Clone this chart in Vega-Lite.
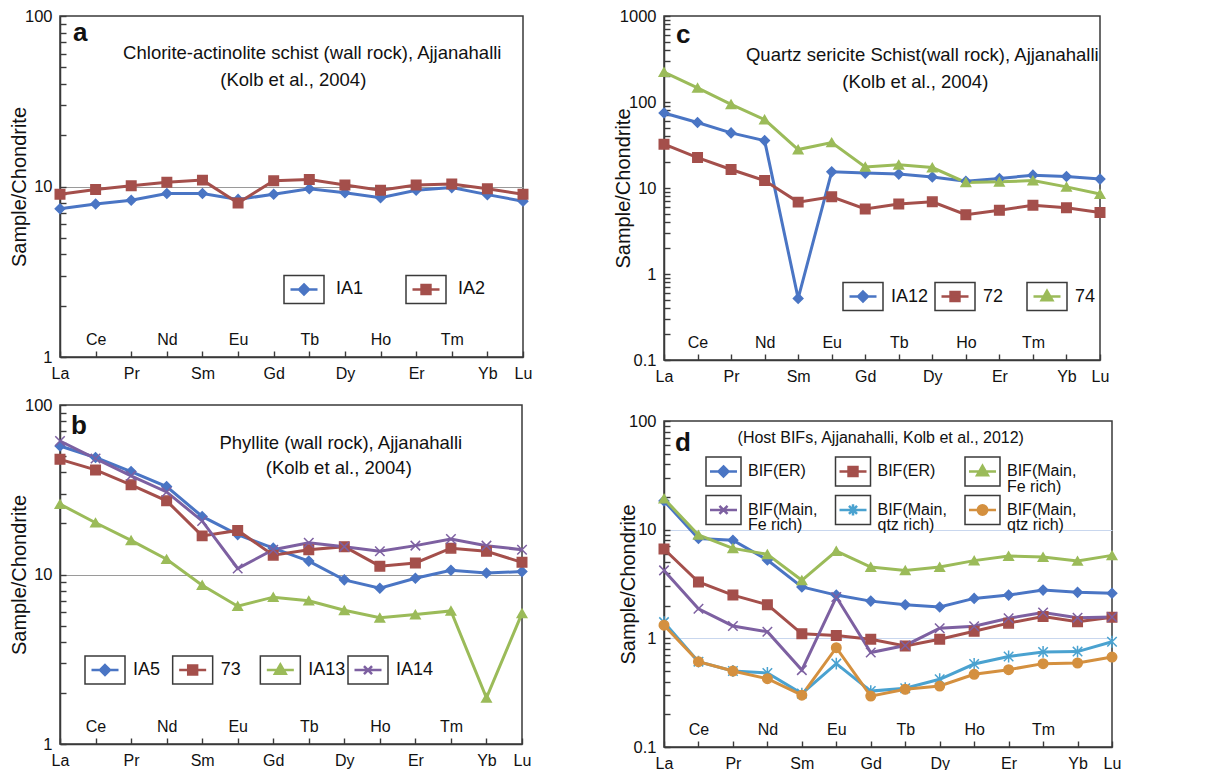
{
  "$schema": "https://vega.github.io/schema/vega-lite/v6.json",
  "background": "white",
  "padding": {"left": 8, "top": 7, "right": 5, "bottom": 2},
  "datasets": {
    "a": [
      {"s":"IA1","el":"La","v":7.4},{"s":"IA1","el":"Ce","v":7.9},{"s":"IA1","el":"Pr","v":8.3},{"s":"IA1","el":"Nd","v":9.1},{"s":"IA1","el":"Sm","v":9.1},{"s":"IA1","el":"Eu","v":8.4},{"s":"IA1","el":"Gd","v":9.0},{"s":"IA1","el":"Tb","v":9.7},{"s":"IA1","el":"Dy","v":9.2},{"s":"IA1","el":"Ho","v":8.6},{"s":"IA1","el":"Er","v":9.5},{"s":"IA1","el":"Tm","v":9.85},{"s":"IA1","el":"Yb","v":8.96},{"s":"IA1","el":"Lu","v":8.2},
      {"s":"IA2","el":"La","v":9.0},{"s":"IA2","el":"Ce","v":9.6},{"s":"IA2","el":"Pr","v":10.1},{"s":"IA2","el":"Nd","v":10.6},{"s":"IA2","el":"Sm","v":10.9},{"s":"IA2","el":"Eu","v":8.0},{"s":"IA2","el":"Gd","v":10.8},{"s":"IA2","el":"Tb","v":11.0},{"s":"IA2","el":"Dy","v":10.2},{"s":"IA2","el":"Ho","v":9.5},{"s":"IA2","el":"Er","v":10.2},{"s":"IA2","el":"Tm","v":10.35},{"s":"IA2","el":"Yb","v":9.7},{"s":"IA2","el":"Lu","v":9.0}
    ],
    "b": [
      {"s":"IA5","el":"La","v":57.3},{"s":"IA5","el":"Ce","v":49},{"s":"IA5","el":"Pr","v":40.5},{"s":"IA5","el":"Nd","v":33},{"s":"IA5","el":"Sm","v":22},{"s":"IA5","el":"Eu","v":17.2},{"s":"IA5","el":"Gd","v":14.3},{"s":"IA5","el":"Tb","v":12.0},{"s":"IA5","el":"Dy","v":9.3},{"s":"IA5","el":"Ho","v":8.3},{"s":"IA5","el":"Er","v":9.5},{"s":"IA5","el":"Tm","v":10.6},{"s":"IA5","el":"Yb","v":10.2},{"s":"IA5","el":"Lu","v":10.4},
      {"s":"73","el":"La","v":47.8},{"s":"73","el":"Ce","v":41.4},{"s":"73","el":"Pr","v":33.8},{"s":"73","el":"Nd","v":27.2},{"s":"73","el":"Sm","v":16.9},{"s":"73","el":"Eu","v":18.2},{"s":"73","el":"Gd","v":13.0},{"s":"73","el":"Tb","v":14.0},{"s":"73","el":"Dy","v":14.6},{"s":"73","el":"Ho","v":11.2},{"s":"73","el":"Er","v":11.7},{"s":"73","el":"Tm","v":14.3},{"s":"73","el":"Yb","v":13.7},{"s":"73","el":"Lu","v":11.8},
      {"s":"IA13","el":"La","v":26},{"s":"IA13","el":"Ce","v":20.2},{"s":"IA13","el":"Pr","v":15.9},{"s":"IA13","el":"Nd","v":12.3},{"s":"IA13","el":"Sm","v":8.65},{"s":"IA13","el":"Eu","v":6.5},{"s":"IA13","el":"Gd","v":7.35},{"s":"IA13","el":"Tb","v":7.0},{"s":"IA13","el":"Dy","v":6.15},{"s":"IA13","el":"Ho","v":5.55},{"s":"IA13","el":"Er","v":5.8},{"s":"IA13","el":"Tm","v":6.1},{"s":"IA13","el":"Yb","v":1.87},{"s":"IA13","el":"Lu","v":5.9},
      {"s":"IA14","el":"La","v":61.3},{"s":"IA14","el":"Ce","v":48.3},{"s":"IA14","el":"Pr","v":38.2},{"s":"IA14","el":"Nd","v":30.7},{"s":"IA14","el":"Sm","v":20.7},{"s":"IA14","el":"Eu","v":10.85},{"s":"IA14","el":"Gd","v":14.0},{"s":"IA14","el":"Tb","v":15.4},{"s":"IA14","el":"Dy","v":14.6},{"s":"IA14","el":"Ho","v":13.7},{"s":"IA14","el":"Er","v":14.8},{"s":"IA14","el":"Tm","v":16.2},{"s":"IA14","el":"Yb","v":14.8},{"s":"IA14","el":"Lu","v":14.0}
    ],
    "c": [
      {"s":"IA12","el":"La","v":74.6},{"s":"IA12","el":"Ce","v":57.7},{"s":"IA12","el":"Pr","v":43.7},{"s":"IA12","el":"Nd","v":35.6},{"s":"IA12","el":"Sm","v":0.52},{"s":"IA12","el":"Eu","v":15.4},{"s":"IA12","el":"Gd","v":14.9},{"s":"IA12","el":"Tb","v":14.5},{"s":"IA12","el":"Dy","v":13.4},{"s":"IA12","el":"Ho","v":12.0},{"s":"IA12","el":"Er","v":12.9},{"s":"IA12","el":"Tm","v":14.1},{"s":"IA12","el":"Yb","v":13.6},{"s":"IA12","el":"Lu","v":12.7},
      {"s":"72","el":"La","v":32.3},{"s":"72","el":"Ce","v":22.6},{"s":"72","el":"Pr","v":16.4},{"s":"72","el":"Nd","v":12.2},{"s":"72","el":"Sm","v":6.85},{"s":"72","el":"Eu","v":7.9},{"s":"72","el":"Gd","v":5.7},{"s":"72","el":"Tb","v":6.5},{"s":"72","el":"Dy","v":6.9},{"s":"72","el":"Ho","v":4.9},{"s":"72","el":"Er","v":5.5},{"s":"72","el":"Tm","v":6.3},{"s":"72","el":"Yb","v":5.9},{"s":"72","el":"Lu","v":5.2},
      {"s":"74","el":"La","v":223},{"s":"74","el":"Ce","v":146},{"s":"74","el":"Pr","v":94},{"s":"74","el":"Nd","v":62.5},{"s":"74","el":"Sm","v":28},{"s":"74","el":"Eu","v":33.8},{"s":"74","el":"Gd","v":17.6},{"s":"74","el":"Tb","v":18.6},{"s":"74","el":"Dy","v":17.3},{"s":"74","el":"Ho","v":11.6},{"s":"74","el":"Er","v":11.8},{"s":"74","el":"Tm","v":12.2},{"s":"74","el":"Yb","v":10.3},{"s":"74","el":"Lu","v":8.5}
    ],
    "d": [
      {"s":"BIF(ER)-1","el":"La","v":18.4},{"s":"BIF(ER)-1","el":"Ce","v":8.3},{"s":"BIF(ER)-1","el":"Pr","v":8.0},{"s":"BIF(ER)-1","el":"Nd","v":5.26},{"s":"BIF(ER)-1","el":"Sm","v":2.97},{"s":"BIF(ER)-1","el":"Eu","v":2.5},{"s":"BIF(ER)-1","el":"Gd","v":2.2},{"s":"BIF(ER)-1","el":"Tb","v":2.04},{"s":"BIF(ER)-1","el":"Dy","v":1.94},{"s":"BIF(ER)-1","el":"Ho","v":2.33},{"s":"BIF(ER)-1","el":"Er","v":2.5},{"s":"BIF(ER)-1","el":"Tm","v":2.78},{"s":"BIF(ER)-1","el":"Yb","v":2.65},{"s":"BIF(ER)-1","el":"Lu","v":2.6},
      {"s":"BIF(ER)-2","el":"La","v":6.64},{"s":"BIF(ER)-2","el":"Ce","v":3.3},{"s":"BIF(ER)-2","el":"Pr","v":2.5},{"s":"BIF(ER)-2","el":"Nd","v":2.04},{"s":"BIF(ER)-2","el":"Sm","v":1.10},{"s":"BIF(ER)-2","el":"Eu","v":1.06},{"s":"BIF(ER)-2","el":"Gd","v":0.98},{"s":"BIF(ER)-2","el":"Tb","v":0.85},{"s":"BIF(ER)-2","el":"Dy","v":0.98},{"s":"BIF(ER)-2","el":"Ho","v":1.16},{"s":"BIF(ER)-2","el":"Er","v":1.38},{"s":"BIF(ER)-2","el":"Tm","v":1.59},{"s":"BIF(ER)-2","el":"Yb","v":1.42},{"s":"BIF(ER)-2","el":"Lu","v":1.56},
      {"s":"BIF(Main, Fe rich)-1","el":"La","v":19.3},{"s":"BIF(Main, Fe rich)-1","el":"Ce","v":8.93},{"s":"BIF(Main, Fe rich)-1","el":"Pr","v":6.73},{"s":"BIF(Main, Fe rich)-1","el":"Nd","v":5.93},{"s":"BIF(Main, Fe rich)-1","el":"Sm","v":3.42},{"s":"BIF(Main, Fe rich)-1","el":"Eu","v":6.36},{"s":"BIF(Main, Fe rich)-1","el":"Gd","v":4.53},{"s":"BIF(Main, Fe rich)-1","el":"Tb","v":4.22},{"s":"BIF(Main, Fe rich)-1","el":"Dy","v":4.53},{"s":"BIF(Main, Fe rich)-1","el":"Ho","v":5.19},{"s":"BIF(Main, Fe rich)-1","el":"Er","v":5.72},{"s":"BIF(Main, Fe rich)-1","el":"Tm","v":5.6},{"s":"BIF(Main, Fe rich)-1","el":"Yb","v":5.15},{"s":"BIF(Main, Fe rich)-1","el":"Lu","v":5.8},
      {"s":"BIF(Main, Fe rich)-2","el":"La","v":4.22},{"s":"BIF(Main, Fe rich)-2","el":"Ce","v":1.87},{"s":"BIF(Main, Fe rich)-2","el":"Pr","v":1.30},{"s":"BIF(Main, Fe rich)-2","el":"Nd","v":1.15},{"s":"BIF(Main, Fe rich)-2","el":"Sm","v":0.51},{"s":"BIF(Main, Fe rich)-2","el":"Eu","v":2.40},{"s":"BIF(Main, Fe rich)-2","el":"Gd","v":0.74},{"s":"BIF(Main, Fe rich)-2","el":"Tb","v":0.86},{"s":"BIF(Main, Fe rich)-2","el":"Dy","v":1.24},{"s":"BIF(Main, Fe rich)-2","el":"Ho","v":1.29},{"s":"BIF(Main, Fe rich)-2","el":"Er","v":1.53},{"s":"BIF(Main, Fe rich)-2","el":"Tm","v":1.73},{"s":"BIF(Main, Fe rich)-2","el":"Yb","v":1.55},{"s":"BIF(Main, Fe rich)-2","el":"Lu","v":1.57},
      {"s":"BIF(Main, qtz rich)-1","el":"La","v":1.41},{"s":"BIF(Main, qtz rich)-1","el":"Ce","v":0.61},{"s":"BIF(Main, qtz rich)-1","el":"Pr","v":0.50},{"s":"BIF(Main, qtz rich)-1","el":"Nd","v":0.48},{"s":"BIF(Main, qtz rich)-1","el":"Sm","v":0.31},{"s":"BIF(Main, qtz rich)-1","el":"Eu","v":0.585},{"s":"BIF(Main, qtz rich)-1","el":"Gd","v":0.327},{"s":"BIF(Main, qtz rich)-1","el":"Tb","v":0.347},{"s":"BIF(Main, qtz rich)-1","el":"Dy","v":0.42},{"s":"BIF(Main, qtz rich)-1","el":"Ho","v":0.58},{"s":"BIF(Main, qtz rich)-1","el":"Er","v":0.68},{"s":"BIF(Main, qtz rich)-1","el":"Tm","v":0.75},{"s":"BIF(Main, qtz rich)-1","el":"Yb","v":0.755},{"s":"BIF(Main, qtz rich)-1","el":"Lu","v":0.93},
      {"s":"BIF(Main, qtz rich)-2","el":"La","v":1.32},{"s":"BIF(Main, qtz rich)-2","el":"Ce","v":0.61},{"s":"BIF(Main, qtz rich)-2","el":"Pr","v":0.50},{"s":"BIF(Main, qtz rich)-2","el":"Nd","v":0.425},{"s":"BIF(Main, qtz rich)-2","el":"Sm","v":0.30},{"s":"BIF(Main, qtz rich)-2","el":"Eu","v":0.82},{"s":"BIF(Main, qtz rich)-2","el":"Gd","v":0.294},{"s":"BIF(Main, qtz rich)-2","el":"Tb","v":0.34},{"s":"BIF(Main, qtz rich)-2","el":"Dy","v":0.364},{"s":"BIF(Main, qtz rich)-2","el":"Ho","v":0.467},{"s":"BIF(Main, qtz rich)-2","el":"Er","v":0.515},{"s":"BIF(Main, qtz rich)-2","el":"Tm","v":0.585},{"s":"BIF(Main, qtz rich)-2","el":"Yb","v":0.593},{"s":"BIF(Main, qtz rich)-2","el":"Lu","v":0.673}
    ]
  },
  "spacing": 79,
  "resolve": {"scale": {"x": "independent", "y": "independent", "color": "independent", "fill": "independent", "stroke": "independent", "shape": "independent"}},
  "hconcat": [
    {
      "spacing": 14,
      "resolve": {"scale": {"x": "independent", "y": "independent", "color": "independent", "fill": "independent", "stroke": "independent", "shape": "independent"}},
      "vconcat": [
        {
          "width": 463, "height": 341,
          "resolve": {"scale": {"x": "independent", "color": "independent", "fill": "independent", "stroke": "independent", "shape": "independent"}},
          "layer": [
            {"layer": [
              {"data": {"name": "a"}, "mark": {"type": "line", "strokeWidth": 3},
               "encoding": {
                 "x": {"field": "el", "type": "ordinal", "scale": {"type": "point", "padding": 0, "domain": ["La","Ce","Pr","Nd","Sm","Eu","Gd","Tb","Dy","Ho","Er","Tm","Yb","Lu"]},
                       "axis": {"title": null, "labelAngle": 0, "labelFontSize": 16, "ticks": true, "tickSize": -6, "labelPadding": 5, "labelLineHeight": 34, "labelOverlap": false, "grid": false,
                                "labelBaseline": {"condition": {"test": "indexof(['Ce','Nd','Eu','Tb','Ho','Tm'], datum.value) >= 0", "value": "line-bottom"}, "value": "line-top"}}},
                 "y": {"field": "v", "type": "quantitative", "scale": {"type": "log", "domain": [1, 100]},
                       "axis": {"title": "Sample/Chondrite", "titleFontSize": 20, "titleFontWeight": "normal", "titleX": -41, "titleBaseline": "middle",
                                "values": [1,2,3,4,5,6,7,8,9,10,20,30,40,50,60,70,80,90,100],
                                "labelExpr": "indexof([0.1,1,10,100,1000], datum.value) >= 0 ? '' + datum.value : ''",
                                "labelFontSize": 16.5, "ticks": true, "tickSize": -6, "labelPadding": 14, "labelOverlap": false,
                                "grid": true, "gridColor": "#9a9a9a", "gridWidth": 1.2,
                                "gridOpacity": {"condition": {"test": "datum.value == 10", "value": 1}, "value": 0}}},
                 "color": {"field": "s", "type": "nominal", "scale": {"domain": ["IA1","IA2"], "range": ["#4a75c4","#a44f4b"]}, "legend": null}
               }},
              {"data": {"name": "a"}, "mark": {"type": "point", "filled": true, "opacity": 1, "size": 90, "strokeWidth": 1.5},
               "encoding": {
                 "x": {"field": "el", "type": "ordinal"},
                 "y": {"field": "v", "type": "quantitative"},
                 "color": {"field": "s", "type": "nominal", "legend": null},
                 "stroke": {"field": "s", "type": "nominal", "scale": {"domain": ["IA1","IA2"], "range": ["#4a75c4","#a44f4b"]}, "legend": null},
                 "shape": {"field": "s", "type": "nominal", "scale": {"domain": ["IA1","IA2"], "range": ["diamond","square"]}, "legend": null}
               }},
              {"data": {"values": [{}]}, "mark": {"type": "text", "text": "a", "font": "Liberation Sans", "fontSize": 26, "fontWeight": "bold", "align": "left", "baseline": "middle", "dx": 13, "color": "#111"},
               "encoding": {"x": {"datum": "La", "type": "ordinal"}, "y": {"datum": 79.5, "type": "quantitative"}}},
              {"data": {"values": [{}]}, "mark": {"type": "text", "text": "Chlorite-actinolite schist (wall rock), Ajjanahalli", "font": "Liberation Sans", "fontSize": 18.5, "align": "center", "baseline": "middle", "dx": 3, "color": "#111"},
               "encoding": {"x": {"datum": "Tb", "type": "ordinal"}, "y": {"datum": 60.7, "type": "quantitative"}}},
              {"data": {"values": [{}]}, "mark": {"type": "text", "text": "(Kolb et al., 2004)", "font": "Liberation Sans", "fontSize": 18.5, "align": "center", "baseline": "middle", "dx": -16, "color": "#111"},
               "encoding": {"x": {"datum": "Tb", "type": "ordinal"}, "y": {"datum": 42.1, "type": "quantitative"}}}
            ]},
            {"data": {"name": "a"}, "transform": [{"filter": "datum.el == 'La'"}],
             "encoding": {"x": {"field": "s", "type": "nominal", "scale": {"type": "point", "padding": 0, "domain": ["IA1","IA2"], "range": [244, 366]}, "axis": null},
                          "y": {"datum": 2.49, "type": "quantitative"}},
             "layer": [
               {"mark": {"type": "point", "shape": "M-1,-0.7H1V0.7H-1Z", "size": 1600, "filled": false, "stroke": "#3a3a3a", "strokeWidth": 1.5, "opacity": 1}},
               {"mark": {"type": "point", "filled": true, "size": 729, "strokeWidth": 2.5, "opacity": 1},
                "encoding": {
                  "shape": {"field": "s", "type": "nominal", "scale": {"domain": ["IA1","IA2"], "range": ["M-1,0H1M0,-0.37L0.37,0L0,0.37L-0.37,0Z","M-1,0H1M-0.33,-0.33H0.33V0.33H-0.33Z"]}, "legend": null},
                  "fill": {"field": "s", "type": "nominal", "scale": {"domain": ["IA1","IA2"], "range": ["#4a75c4","#a44f4b"]}, "legend": null},
                  "stroke": {"field": "s", "type": "nominal", "scale": {"domain": ["IA1","IA2"], "range": ["#4a75c4","#a44f4b"]}, "legend": null}}},
               {"mark": {"type": "text", "align": "left", "baseline": "middle", "dx": 32, "font": "Liberation Sans", "fontSize": 18, "color": "#111"},
                "encoding": {"text": {"field": "s"}}}
             ]}
          ]
        },
        {
          "width": 462, "height": 339,
          "resolve": {"scale": {"x": "independent", "color": "independent", "fill": "independent", "stroke": "independent", "shape": "independent"}},
          "layer": [
            {"layer": [
              {"data": {"name": "b"}, "mark": {"type": "line", "strokeWidth": 3},
               "encoding": {
                 "x": {"field": "el", "type": "ordinal", "scale": {"type": "point", "padding": 0, "domain": ["La","Ce","Pr","Nd","Sm","Eu","Gd","Tb","Dy","Ho","Er","Tm","Yb","Lu"]},
                       "axis": {"title": null, "labelAngle": 0, "labelFontSize": 16, "ticks": true, "tickSize": -6, "labelPadding": 5, "labelLineHeight": 34, "labelOverlap": false, "grid": false,
                                "labelBaseline": {"condition": {"test": "indexof(['Ce','Nd','Eu','Tb','Ho','Tm'], datum.value) >= 0", "value": "line-bottom"}, "value": "line-top"}}},
                 "y": {"field": "v", "type": "quantitative", "scale": {"type": "log", "domain": [1, 100]},
                       "axis": {"title": "Sample/Chondrite", "titleFontSize": 20, "titleFontWeight": "normal", "titleX": -41, "titleBaseline": "middle",
                                "values": [1,2,3,4,5,6,7,8,9,10,20,30,40,50,60,70,80,90,100],
                                "labelExpr": "indexof([0.1,1,10,100,1000], datum.value) >= 0 ? '' + datum.value : ''",
                                "labelFontSize": 16.5, "ticks": true, "tickSize": -6, "labelPadding": 14, "labelOverlap": false,
                                "grid": true, "gridColor": "#9a9a9a", "gridWidth": 1.2,
                                "gridOpacity": {"condition": {"test": "datum.value == 10", "value": 1}, "value": 0}}},
                 "color": {"field": "s", "type": "nominal", "scale": {"domain": ["IA5","73","IA13","IA14"], "range": ["#4a75c4","#a44f4b","#9bbb59","#7d60a1"]}, "legend": null}
               }},
              {"data": {"name": "b"}, "mark": {"type": "point", "filled": true, "opacity": 1, "size": 90, "strokeWidth": 1.5},
               "encoding": {
                 "x": {"field": "el", "type": "ordinal"},
                 "y": {"field": "v", "type": "quantitative"},
                 "color": {"field": "s", "type": "nominal", "legend": null},
                 "stroke": {"field": "s", "type": "nominal", "scale": {"domain": ["IA5","73","IA13","IA14"], "range": ["#4a75c4","#a44f4b","#9bbb59","#7d60a1"]}, "legend": null},
                 "shape": {"field": "s", "type": "nominal", "scale": {"domain": ["IA5","73","IA13","IA14"], "range": ["diamond","square","triangle-up","M-1,-1L1,1M-1,1L1,-1"]}, "legend": null}
               }},
              {"data": {"values": [{}]}, "mark": {"type": "text", "text": "b", "font": "Liberation Sans", "fontSize": 26, "fontWeight": "bold", "align": "left", "baseline": "middle", "dx": 11, "color": "#111"},
               "encoding": {"x": {"datum": "La", "type": "ordinal"}, "y": {"datum": 75.2, "type": "quantitative"}}},
              {"data": {"values": [{}]}, "mark": {"type": "text", "text": "Phyllite (wall rock), Ajjanahalli", "font": "Liberation Sans", "fontSize": 18.5, "align": "center", "baseline": "middle", "dx": -3.5, "color": "#111"},
               "encoding": {"x": {"datum": "Dy", "type": "ordinal"}, "y": {"datum": 59.7, "type": "quantitative"}}},
              {"data": {"values": [{}]}, "mark": {"type": "text", "text": "(Kolb et al., 2004)", "font": "Liberation Sans", "fontSize": 18.5, "align": "center", "baseline": "middle", "dx": -5.5, "color": "#111"},
               "encoding": {"x": {"datum": "Dy", "type": "ordinal"}, "y": {"datum": 42.5, "type": "quantitative"}}}
            ]},
            {"data": {"name": "b"}, "transform": [{"filter": "datum.el == 'La'"}],
             "encoding": {"x": {"field": "s", "type": "nominal", "scale": {"type": "point", "padding": 0, "domain": ["IA5","73","IA13","IA14"], "range": [45, 308]}, "axis": null},
                          "y": {"datum": 2.73, "type": "quantitative"}},
             "layer": [
               {"mark": {"type": "point", "shape": "M-1,-0.7H1V0.7H-1Z", "size": 1600, "filled": false, "stroke": "#3a3a3a", "strokeWidth": 1.5, "opacity": 1}},
               {"mark": {"type": "point", "filled": true, "size": 729, "strokeWidth": 2.5, "opacity": 1},
                "encoding": {
                  "shape": {"field": "s", "type": "nominal", "scale": {"domain": ["IA5","73","IA13","IA14"], "range": ["M-1,0H1M0,-0.37L0.37,0L0,0.37L-0.37,0Z","M-1,0H1M-0.33,-0.33H0.33V0.33H-0.33Z","M-1,0H1M0,-0.42L0.4,0.28H-0.4Z","M-1,0H1M-0.3,-0.3L0.3,0.3M-0.3,0.3L0.3,-0.3"]}, "legend": null},
                  "fill": {"field": "s", "type": "nominal", "scale": {"domain": ["IA5","73","IA13","IA14"], "range": ["#4a75c4","#a44f4b","#9bbb59","#7d60a1"]}, "legend": null},
                  "stroke": {"field": "s", "type": "nominal", "scale": {"domain": ["IA5","73","IA13","IA14"], "range": ["#4a75c4","#a44f4b","#9bbb59","#7d60a1"]}, "legend": null}}},
               {"mark": {"type": "text", "align": "left", "baseline": "middle", "dx": 28, "font": "Liberation Sans", "fontSize": 18, "color": "#111"},
                "encoding": {"text": {"field": "s"}}}
             ]}
          ]
        }
      ]
    },
    {
      "spacing": 27,
      "resolve": {"scale": {"x": "independent", "y": "independent", "color": "independent", "fill": "independent", "stroke": "independent", "shape": "independent"}},
      "vconcat": [
        {
          "width": 436, "height": 344,
          "resolve": {"scale": {"x": "independent", "color": "independent", "fill": "independent", "stroke": "independent", "shape": "independent"}},
          "layer": [
            {"layer": [
              {"data": {"name": "c"}, "mark": {"type": "line", "strokeWidth": 3},
               "encoding": {
                 "x": {"field": "el", "type": "ordinal", "scale": {"type": "point", "padding": 0, "domain": ["La","Ce","Pr","Nd","Sm","Eu","Gd","Tb","Dy","Ho","Er","Tm","Yb","Lu"]},
                       "axis": {"title": null, "labelAngle": 0, "labelFontSize": 16, "ticks": true, "tickSize": -6, "labelPadding": 5, "labelLineHeight": 34, "labelOverlap": false, "grid": false,
                                "labelBaseline": {"condition": {"test": "indexof(['Ce','Nd','Eu','Tb','Ho','Tm'], datum.value) >= 0", "value": "line-bottom"}, "value": "line-top"}}},
                 "y": {"field": "v", "type": "quantitative", "scale": {"type": "log", "domain": [0.1, 1000]},
                       "axis": {"title": "Sample/Chondrite", "titleFontSize": 20, "titleFontWeight": "normal", "titleX": -41, "titleBaseline": "middle",
                                "values": [0.1,0.2,0.3,0.4,0.5,0.6,0.7,0.8,0.9,1,2,3,4,5,6,7,8,9,10,20,30,40,50,60,70,80,90,100,200,300,400,500,600,700,800,900,1000],
                                "labelExpr": "indexof([0.1,1,10,100,1000], datum.value) >= 0 ? '' + datum.value : ''",
                                "labelFontSize": 16.5, "ticks": true, "tickSize": -6, "labelPadding": 14, "labelOverlap": false, "grid": false}},
                 "color": {"field": "s", "type": "nominal", "scale": {"domain": ["IA12","72","74"], "range": ["#4a75c4","#a44f4b","#9bbb59"]}, "legend": null}
               }},
              {"data": {"name": "c"}, "mark": {"type": "point", "filled": true, "opacity": 1, "size": 90, "strokeWidth": 1.5},
               "encoding": {
                 "x": {"field": "el", "type": "ordinal"},
                 "y": {"field": "v", "type": "quantitative"},
                 "color": {"field": "s", "type": "nominal", "legend": null},
                 "stroke": {"field": "s", "type": "nominal", "scale": {"domain": ["IA12","72","74"], "range": ["#4a75c4","#a44f4b","#9bbb59"]}, "legend": null},
                 "shape": {"field": "s", "type": "nominal", "scale": {"domain": ["IA12","72","74"], "range": ["diamond","square","triangle-up"]}, "legend": null}
               }},
              {"data": {"values": [{}]}, "mark": {"type": "text", "text": "c", "font": "Liberation Sans", "fontSize": 26, "fontWeight": "bold", "align": "left", "baseline": "middle", "dx": 12, "color": "#111"},
               "encoding": {"x": {"datum": "La", "type": "ordinal"}, "y": {"datum": 601, "type": "quantitative"}}},
              {"data": {"values": [{}]}, "mark": {"type": "text", "text": "Quartz sericite Schist(wall rock), Ajjanahalli", "font": "Liberation Sans", "fontSize": 18.5, "align": "center", "baseline": "middle", "dx": -10, "color": "#111"},
               "encoding": {"x": {"datum": "Dy", "type": "ordinal"}, "y": {"datum": 352, "type": "quantitative"}}},
              {"data": {"values": [{}]}, "mark": {"type": "text", "text": "(Kolb et al., 2004)", "font": "Liberation Sans", "fontSize": 18.5, "align": "center", "baseline": "middle", "dx": -17, "color": "#111"},
               "encoding": {"x": {"datum": "Dy", "type": "ordinal"}, "y": {"datum": 171, "type": "quantitative"}}}
            ]},
            {"data": {"name": "c"}, "transform": [{"filter": "datum.el == 'La'"}],
             "encoding": {"x": {"field": "s", "type": "nominal", "scale": {"type": "point", "padding": 0, "domain": ["IA12","72","74"], "range": [199, 383]}, "axis": null},
                          "y": {"datum": 0.547, "type": "quantitative"}},
             "layer": [
               {"mark": {"type": "point", "shape": "M-1,-0.7H1V0.7H-1Z", "size": 1600, "filled": false, "stroke": "#3a3a3a", "strokeWidth": 1.5, "opacity": 1}},
               {"mark": {"type": "point", "filled": true, "size": 729, "strokeWidth": 2.5, "opacity": 1},
                "encoding": {
                  "shape": {"field": "s", "type": "nominal", "scale": {"domain": ["IA12","72","74"], "range": ["M-1,0H1M0,-0.37L0.37,0L0,0.37L-0.37,0Z","M-1,0H1M-0.33,-0.33H0.33V0.33H-0.33Z","M-1,0H1M0,-0.42L0.4,0.28H-0.4Z"]}, "legend": null},
                  "fill": {"field": "s", "type": "nominal", "scale": {"domain": ["IA12","72","74"], "range": ["#4a75c4","#a44f4b","#9bbb59"]}, "legend": null},
                  "stroke": {"field": "s", "type": "nominal", "scale": {"domain": ["IA12","72","74"], "range": ["#4a75c4","#a44f4b","#9bbb59"]}, "legend": null}}},
               {"mark": {"type": "text", "align": "left", "baseline": "middle", "dx": 28, "font": "Liberation Sans", "fontSize": 18, "color": "#111"},
                "encoding": {"text": {"field": "s"}}}
             ]}
          ]
        },
        {
          "width": 448, "height": 326,
          "resolve": {"scale": {"x": "independent", "color": "independent", "fill": "independent", "stroke": "independent", "shape": "independent"}},
          "layer": [
            {"layer": [
              {"data": {"name": "d"}, "mark": {"type": "line", "strokeWidth": 3},
               "encoding": {
                 "x": {"field": "el", "type": "ordinal", "scale": {"type": "point", "padding": 0, "domain": ["La","Ce","Pr","Nd","Sm","Eu","Gd","Tb","Dy","Ho","Er","Tm","Yb","Lu"]},
                       "axis": {"title": null, "labelAngle": 0, "labelFontSize": 16, "ticks": true, "tickSize": -6, "labelPadding": 5, "labelLineHeight": 34, "labelOverlap": false, "grid": false,
                                "labelBaseline": {"condition": {"test": "indexof(['Ce','Nd','Eu','Tb','Ho','Tm'], datum.value) >= 0", "value": "line-bottom"}, "value": "line-top"}}},
                 "y": {"field": "v", "type": "quantitative", "scale": {"type": "log", "domain": [0.1, 100]},
                       "axis": {"title": "Sample/Chondrite", "titleFontSize": 20, "titleFontWeight": "normal", "titleX": -36, "titleBaseline": "middle",
                                "values": [0.1,0.2,0.3,0.4,0.5,0.6,0.7,0.8,0.9,1,2,3,4,5,6,7,8,9,10,20,30,40,50,60,70,80,90,100],
                                "labelExpr": "indexof([0.1,1,10,100,1000], datum.value) >= 0 ? '' + datum.value : ''",
                                "labelFontSize": 16.5, "ticks": true, "tickSize": -6, "labelPadding": 14, "labelOverlap": false,
                                "grid": true, "gridColor": "#c9d7ee", "gridWidth": 1.2,
                                "gridOpacity": {"condition": {"test": "datum.value == 10 || datum.value == 1", "value": 1}, "value": 0}}},
                 "color": {"field": "s", "type": "nominal", "scale": {"domain": ["BIF(ER)-1","BIF(ER)-2","BIF(Main, Fe rich)-1","BIF(Main, Fe rich)-2","BIF(Main, qtz rich)-1","BIF(Main, qtz rich)-2"], "range": ["#4a75c4","#a44f4b","#9bbb59","#7d60a1","#4aa2d0","#d4903f"]}, "legend": null}
               }},
              {"data": {"name": "d"}, "mark": {"type": "point", "filled": true, "opacity": 1, "size": 90, "strokeWidth": 1.5},
               "encoding": {
                 "x": {"field": "el", "type": "ordinal"},
                 "y": {"field": "v", "type": "quantitative"},
                 "color": {"field": "s", "type": "nominal", "legend": null},
                 "stroke": {"field": "s", "type": "nominal", "scale": {"domain": ["BIF(ER)-1","BIF(ER)-2","BIF(Main, Fe rich)-1","BIF(Main, Fe rich)-2","BIF(Main, qtz rich)-1","BIF(Main, qtz rich)-2"], "range": ["#4a75c4","#a44f4b","#9bbb59","#7d60a1","#4aa2d0","#d4903f"]}, "legend": null},
                 "shape": {"field": "s", "type": "nominal", "scale": {"domain": ["BIF(ER)-1","BIF(ER)-2","BIF(Main, Fe rich)-1","BIF(Main, Fe rich)-2","BIF(Main, qtz rich)-1","BIF(Main, qtz rich)-2"], "range": ["diamond","square","triangle-up","M-1,-1L1,1M-1,1L1,-1","M-1,-1L1,1M-1,1L1,-1M0,-1.25L0,1.25","circle"]}, "legend": null}
               }},
              {"data": {"values": [{}]}, "mark": {"type": "text", "text": "d", "font": "Liberation Sans", "fontSize": 26, "fontWeight": "bold", "align": "left", "baseline": "middle", "dx": 11, "color": "#111"},
               "encoding": {"x": {"datum": "La", "type": "ordinal"}, "y": {"datum": 62.8, "type": "quantitative"}}},
              {"data": {"values": [{}]}, "mark": {"type": "text", "text": "(Host BIFs, Ajjanahalli, Kolb et al., 2012)", "font": "Liberation Sans", "fontSize": 16, "align": "center", "baseline": "middle", "dx": 10, "color": "#111"},
               "encoding": {"x": {"datum": "Gd", "type": "ordinal"}, "y": {"datum": 69.8, "type": "quantitative"}}}
            ]},
            {"data": {"name": "d"}, "transform": [{"filter": "datum.el == 'La' && indexof(['BIF(ER)-1','BIF(ER)-2','BIF(Main, Fe rich)-1'], datum.s) >= 0"}],
             "encoding": {"x": {"field": "s", "type": "nominal", "scale": {"type": "point", "padding": 0, "domain": ["BIF(ER)-1","BIF(ER)-2","BIF(Main, Fe rich)-1"], "range": [59.5, 318.5]}, "axis": null},
                          "y": {"datum": 34.3, "type": "quantitative"}},
             "layer": [
               {"mark": {"type": "point", "shape": "M-1,-0.83H1V0.83H-1Z", "size": 1225, "filled": false, "stroke": "#3a3a3a", "strokeWidth": 1.5, "opacity": 1}},
               {"mark": {"type": "point", "filled": true, "size": 729, "strokeWidth": 2.5, "opacity": 1},
                "encoding": {
                  "shape": {"field": "s", "type": "nominal", "scale": {"domain": ["BIF(ER)-1","BIF(ER)-2","BIF(Main, Fe rich)-1"], "range": ["M-1,0H1M0,-0.37L0.37,0L0,0.37L-0.37,0Z","M-1,0H1M-0.33,-0.33H0.33V0.33H-0.33Z","M-1,0H1M0,-0.42L0.4,0.28H-0.4Z"]}, "legend": null},
                  "fill": {"field": "s", "type": "nominal", "scale": {"domain": ["BIF(ER)-1","BIF(ER)-2","BIF(Main, Fe rich)-1"], "range": ["#4a75c4","#a44f4b","#9bbb59"]}, "legend": null},
                  "stroke": {"field": "s", "type": "nominal", "scale": {"domain": ["BIF(ER)-1","BIF(ER)-2","BIF(Main, Fe rich)-1"], "range": ["#4a75c4","#a44f4b","#9bbb59"]}, "legend": null}}},
               {"mark": {"type": "text", "align": "left", "baseline": "middle", "dx": 24.5, "font": "Liberation Sans", "fontSize": 16, "lineHeight": 15.5, "color": "#111"},
                "encoding": {"text": {"condition": {"test": "indexof(datum.s, 'ER') >= 0", "value": "BIF(ER)"}, "value": ["BIF(Main,", "Fe rich)"]}}}
             ]},
            {"data": {"name": "d"}, "transform": [{"filter": "datum.el == 'La' && indexof(['BIF(Main, Fe rich)-2','BIF(Main, qtz rich)-1','BIF(Main, qtz rich)-2'], datum.s) >= 0"}],
             "encoding": {"x": {"field": "s", "type": "nominal", "scale": {"type": "point", "padding": 0, "domain": ["BIF(Main, Fe rich)-2","BIF(Main, qtz rich)-1","BIF(Main, qtz rich)-2"], "range": [59.5, 318.5]}, "axis": null},
                          "y": {"datum": 15.2, "type": "quantitative"}},
             "layer": [
               {"mark": {"type": "point", "shape": "M-1,-0.83H1V0.83H-1Z", "size": 1225, "filled": false, "stroke": "#3a3a3a", "strokeWidth": 1.5, "opacity": 1}},
               {"mark": {"type": "point", "filled": true, "size": 729, "strokeWidth": 2.5, "opacity": 1},
                "encoding": {
                  "shape": {"field": "s", "type": "nominal", "scale": {"domain": ["BIF(Main, Fe rich)-2","BIF(Main, qtz rich)-1","BIF(Main, qtz rich)-2"], "range": ["M-1,0H1M-0.3,-0.3L0.3,0.3M-0.3,0.3L0.3,-0.3","M-1,0H1M-0.3,-0.3L0.3,0.3M-0.3,0.3L0.3,-0.3M0,-0.42V0.42","M-1,0H1M-0.35,0A0.35,0.35,0,1,1,0.35,0A0.35,0.35,0,1,1,-0.35,0Z"]}, "legend": null},
                  "fill": {"field": "s", "type": "nominal", "scale": {"domain": ["BIF(Main, Fe rich)-2","BIF(Main, qtz rich)-1","BIF(Main, qtz rich)-2"], "range": ["#7d60a1","#4aa2d0","#d4903f"]}, "legend": null},
                  "stroke": {"field": "s", "type": "nominal", "scale": {"domain": ["BIF(Main, Fe rich)-2","BIF(Main, qtz rich)-1","BIF(Main, qtz rich)-2"], "range": ["#7d60a1","#4aa2d0","#d4903f"]}, "legend": null}}},
               {"mark": {"type": "text", "align": "left", "baseline": "middle", "dx": 24.5, "font": "Liberation Sans", "fontSize": 16, "lineHeight": 15.5, "color": "#111"},
                "encoding": {"text": {"condition": {"test": "indexof(datum.s, 'Fe') >= 0", "value": ["BIF(Main,", "Fe rich)"]}, "value": ["BIF(Main,", "qtz rich)"]}}}
             ]}
          ]
        }
      ]
    }
  ],
  "config": {
    "font": "Liberation Sans",
    "view": {"stroke": "#3a3a3a", "strokeWidth": 1.5},
    "axis": {"labelFont": "Liberation Sans", "titleFont": "Liberation Sans", "domainColor": "#3a3a3a", "domainWidth": 1.5, "tickColor": "#3a3a3a", "tickWidth": 1.4, "labelColor": "#111", "titleColor": "#111"}
  }
}
